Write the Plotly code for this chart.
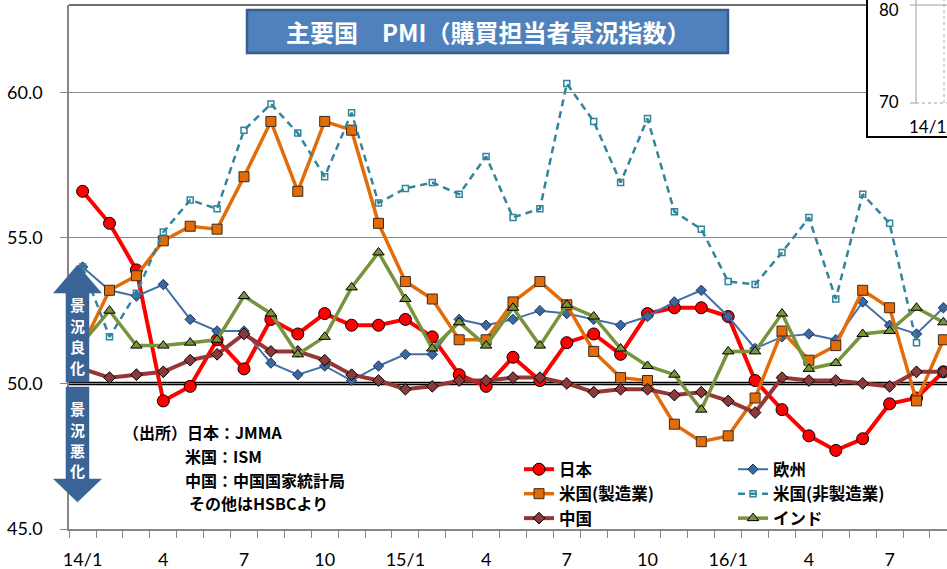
import plotly.graph_objects as go

# ---------------- data ----------------
months = list(range(33))  # 2014/1 .. 2016/9
tick_pos = [0, 3, 6, 9, 12, 15, 18, 21, 24, 27, 30]
tick_labels = ["14/1", "4", "7", "10", "15/1", "4", "7", "10", "16/1", "4", "7"]

japan = [56.6, 55.5, 53.9, 49.4, 49.9, 51.5, 50.5, 52.2, 51.7, 52.4, 52.0, 52.0,
         52.2, 51.6, 50.3, 49.9, 50.9, 50.1, 51.4, 51.7, 51.0, 52.4, 52.6, 52.6,
         52.3, 50.1, 49.1, 48.2, 47.7, 48.1, 49.3, 49.5, 50.4]
europe = [54.0, 53.2, 53.0, 53.4, 52.2, 51.8, 51.8, 50.7, 50.3, 50.6, 50.1, 50.6,
          51.0, 51.0, 52.2, 52.0, 52.2, 52.5, 52.4, 52.2, 52.0, 52.3, 52.8, 53.2,
          52.3, 51.2, 51.6, 51.7, 51.5, 52.8, 52.0, 51.7, 52.6]
us_mfg = [51.3, 53.2, 53.7, 54.9, 55.4, 55.3, 57.1, 59.0, 56.6, 59.0, 58.7, 55.5,
          53.5, 52.9, 51.5, 51.5, 52.8, 53.5, 52.7, 51.1, 50.2, 50.1, 48.6, 48.0,
          48.2, 49.5, 51.8, 50.8, 51.3, 53.2, 52.6, 49.4, 51.5]
us_nonmfg = [54.0, 51.6, 53.1, 55.2, 56.3, 56.0, 58.7, 59.6, 58.6, 57.1, 59.3, 56.2,
             56.7, 56.9, 56.5, 57.8, 55.7, 56.0, 60.3, 59.0, 56.9, 59.1, 55.9, 55.3,
             53.5, 53.4, 54.5, 55.7, 52.9, 56.5, 55.5, 51.4, None]
china = [50.5, 50.2, 50.3, 50.4, 50.8, 51.0, 51.7, 51.1, 51.1, 50.8, 50.3, 50.1,
         49.8, 49.9, 50.1, 50.1, 50.2, 50.2, 50.0, 49.7, 49.8, 49.8, 49.6, 49.7,
         49.4, 49.0, 50.2, 50.1, 50.1, 50.0, 49.9, 50.4, 50.4]
india = [51.4, 52.5, 51.3, 51.3, 51.4, 51.5, 53.0, 52.4, 51.0, 51.6, 53.3, 54.5,
         52.9, 51.2, 52.1, 51.3, 52.6, 51.3, 52.7, 52.3, 51.2, 50.6, 50.3, 49.1,
         51.1, 51.1, 52.4, 50.5, 50.7, 51.7, 51.8, 52.6, 52.1]

# ---------------- layout helpers ----------------
W, H = 947, 569
L, R, T, B = 69, 0, 5, 40
PW, PH = W - L - R, H - T - B


def px(x):
    return (x - L) / PW


def py(y):
    return (H - B - y) / PH


JP = "Noto Sans CJK JP"
NUM = "Lato"

fig = go.Figure()


def add(name, y, color, lw, symbol, msize, mfill, mline, legend, dash="solid", mlw=1):
    fig.add_trace(go.Scatter(
        x=months, y=y, name="<b>" + name + "</b>", mode="lines+markers",
        line=dict(color=color, width=lw, dash=dash),
        marker=dict(symbol=symbol, size=msize, color=mfill,
                    line=dict(color=mline, width=mlw)),
        legend=legend, hoverinfo="skip", connectgaps=False))


add("日本", japan, "#ff0000", 4, "circle", 12, "#ff0000", "#000000", "legend")
add("欧州", europe, "#4470a8", 2, "diamond", 8, "#3b68a0", "#1f3460", "legend2")
add("米国(製造業)", us_mfg, "#e36c09", 3.5, "square", 10, "#e36c09", "#3a2a1a", "legend")
add("米国(非製造業)", us_nonmfg, "#31859c", 2.5, "square-open", 6, "#31859c", "#31859c",
    "legend2", dash="7px,5px", mlw=1.5)
add("中国", china, "#953735", 4, "diamond", 9, "#8a3a3a", "#000000", "legend")
add("インド", india, "#77933c", 3.5, "triangle-up", 10, "#77933c", "#000000", "legend2")

shapes = []
# 50 reference line
shapes.append(dict(type="line", xref="paper", yref="y", x0=0, x1=1, y0=50, y1=50,
                   line=dict(color="black", width=3.5), layer="between"))
# top border of plot area
shapes.append(dict(type="line", xref="paper", yref="paper", x0=0, x1=px(867), y0=1, y1=1,
                   line=dict(color="#404040", width=1.5)))

# double arrow
ARW = "#3b6496"
up = [(66, 382), (66, 293), (53.5, 293), (77.5, 265), (101.5, 293), (89, 293), (89, 382)]
dn = [(66, 387), (89, 387), (89, 479), (101.5, 479), (77.5, 502), (53.5, 479), (66, 479)]
for poly in (up, dn):
    path = "M " + " L ".join(f"{px(a):.5f},{py(b):.5f}" for a, b in poly) + " Z"
    shapes.append(dict(type="path", xref="paper", yref="paper", path=path,
                       fillcolor=ARW, line=dict(color=ARW, width=0.5), layer="above"))

# title box
shapes.append(dict(type="rect", xref="paper", yref="paper",
                   x0=px(247), x1=px(728), y0=py(53), y1=py(10),
                   fillcolor="#4f81bd", line=dict(color="#385d8a", width=2.5), layer="above"))

# inset fragment (top-right)
shapes.append(dict(type="rect", xref="paper", yref="paper",
                   x0=px(867), x1=px(960), y0=py(137), y1=py(-10),
                   fillcolor="white", line=dict(color="black", width=2), layer="above"))
shapes.append(dict(type="line", xref="paper", yref="paper", x0=px(916), x1=px(916),
                   y0=py(103), y1=py(-10), line=dict(color="#a0a0a0", width=1), layer="above"))
shapes.append(dict(type="line", xref="paper", yref="paper", x0=px(910), x1=px(950),
                   y0=py(5), y1=py(5), line=dict(color="#a0a0a0", width=1), layer="above"))
shapes.append(dict(type="line", xref="paper", yref="paper", x0=px(910), x1=px(916),
                   y0=py(103), y1=py(103), line=dict(color="#a0a0a0", width=1), layer="above"))
shapes.append(dict(type="line", xref="paper", yref="paper", x0=px(916), x1=px(950),
                   y0=py(103), y1=py(103), line=dict(color="#a0a0a0", width=1, dash="dot"),
                   layer="above"))
shapes.append(dict(type="line", xref="paper", yref="paper", x0=px(944), x1=px(944),
                   y0=py(103), y1=py(-10), line=dict(color="#b0b0b0", width=1, dash="dot"),
                   layer="above"))

annotations = []
annotations.append(dict(x=px(488), y=py(31.5), xref="paper", yref="paper",
                        text="<b>主要国　PMI（購買担当者景況指数）</b>", showarrow=False,
                        font=dict(family=JP, size=24, color="white"),
                        xanchor="center", yanchor="middle"))
for ch, yy in zip("景況良化", [304, 325, 346, 367]):
    annotations.append(dict(x=px(77.5), y=py(yy), xref="paper", yref="paper",
                            text=f"<b>{ch}</b>", showarrow=False,
                            font=dict(family=JP, size=15, color="white"),
                            xanchor="center", yanchor="middle"))
for ch, yy in zip("景況悪化", [408, 429, 450, 470]):
    annotations.append(dict(x=px(77.5), y=py(yy), xref="paper", yref="paper",
                            text=f"<b>{ch}</b>", showarrow=False,
                            font=dict(family=JP, size=15, color="white"),
                            xanchor="center", yanchor="middle"))
src = [("（出所）日本：JMMA", 121, 432), ("米国：ISM", 183, 456),
       ("中国：中国国家統計局", 183, 480), ("その他はHSBCより", 187, 503)]
for t, xx, yy in src:
    annotations.append(dict(x=px(xx), y=py(yy), xref="paper", yref="paper",
                            text=f"<b>{t}</b>", showarrow=False,
                            font=dict(family=JP, size=16, color="black"),
                            xanchor="left", yanchor="middle"))
# inset labels
for t, xx, yy in [("80", 889, 9), ("70", 889, 102), ("14/1", 927, 126)]:
    annotations.append(dict(x=px(xx), y=py(yy), xref="paper", yref="paper",
                            text=t, showarrow=False,
                            font=dict(family=NUM, size=17, color="black"),
                            xanchor="center", yanchor="middle"))

leg_common = dict(orientation="v", bgcolor="rgba(0,0,0,0)", borderwidth=0,
                  font=dict(family=JP, size=16.5, color="black"),
                  xanchor="left", yanchor="top", xref="paper", yref="paper",
                  tracegroupgap=0)

fig.update_layout(
    width=W, height=H,
    margin=dict(l=L, r=R, t=T, b=B, pad=0),
    paper_bgcolor="white", plot_bgcolor="white",
    showlegend=True,
    legend=dict(x=px(519), y=py(452), **leg_common),
    legend2=dict(x=px(733), y=py(452), **leg_common),
    shapes=shapes, annotations=annotations,
    xaxis=dict(range=[-0.5056, 32.134], tickmode="array", tickvals=tick_pos,
               ticktext=tick_labels, ticks="", showgrid=False, zeroline=False,
               showline=True, linecolor="#868686", linewidth=1.5,
               tickfont=dict(family=NUM, size=18, color="black"),
               ticklabelstandoff=14, automargin=False,
               minor=dict(tickmode="array", tickvals=[i - 0.5 for i in range(34)],
                          ticks="outside", ticklen=7, tickcolor="#868686", tickwidth=1,
                          showgrid=False)),
    yaxis=dict(range=[45, 63], tickmode="array", tickvals=[45, 50, 55, 60],
               ticktext=["45.0", "50.0", "55.0", "60.0"], ticks="outside", ticklen=7,
               tickcolor="#868686", showgrid=True, gridcolor="#8a8a8a", gridwidth=1,
               zeroline=False, showline=True, linecolor="#868686", linewidth=1.5,
               tickfont=dict(family=NUM, size=18, color="black"),
               ticklabelstandoff=14, automargin=False),
)

fig.write_html("out.html",
               config={"displayModeBar": False},
               post_script="document.body.style.margin='0px';"
                           "document.body.style.overflow='hidden';")
